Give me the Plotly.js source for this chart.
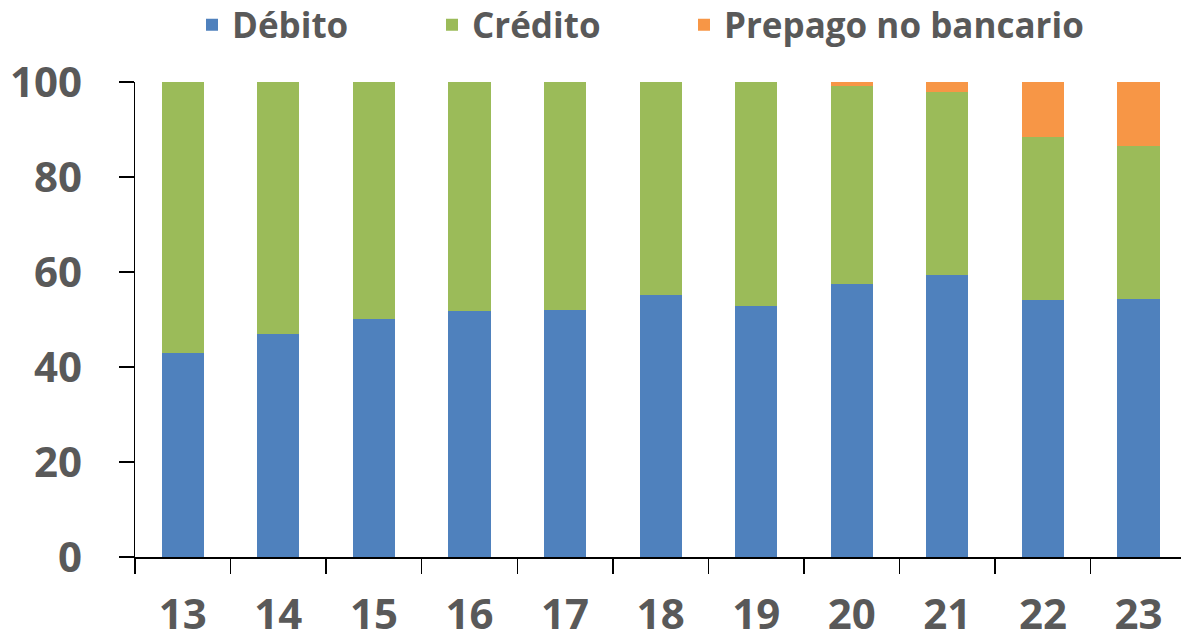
<!DOCTYPE html>
<html>
<head>
<meta charset="utf-8">
<script src="https://cdn.plot.ly/plotly-3.0.1.min.js"></script>
<style>html,body{margin:0;padding:0;background:#fff;}#chart{width:1181px;height:636px;}</style>
</head>
<body>
<div id="chart"></div>
<script>
const years = [13, 14, 15, 16, 17, 18, 19, 20, 21, 22, 23];
const yearLabels = ['13', '14', '15', '16', '17', '18', '19', '20', '21', '22', '23'];
const debito = [43.0, 47.0, 50.1, 51.7, 52.0, 55.2, 52.9, 57.5, 59.3, 54.2, 54.4];
const credito = [57.0, 53.0, 49.9, 48.3, 48.0, 44.8, 47.1, 41.7, 38.7, 34.2, 32.2];
const prepago = [null, null, null, null, null, null, null, 0.8, 2.0, 11.6, 13.4];
const boundaries = [12.5, 13.5, 14.5, 15.5, 16.5, 17.5, 18.5, 19.5, 20.5, 21.5, 22.5, 23.5];
const yTicks = [0, 20, 40, 60, 80, 100];

const txt = '#595959';
const fontFam = '"Open Sans", "Noto Sans", sans-serif';

const traces = [
  {type: 'bar', name: 'Débito', x: years, y: debito, legend: 'legend', marker: {color: '#4F81BD', line: {width: 0}}},
  {type: 'bar', name: 'Crédito', x: years, y: credito, legend: 'legend2', marker: {color: '#9BBB59', line: {width: 0}}},
  {type: 'bar', name: 'Prepago no bancario', x: years, y: prepago, legend: 'legend3', marker: {color: '#F79646', line: {width: 0}}}
];

function leg(px) {
  return {
    orientation: 'h', x: px / 1181, xref: 'container', xanchor: 'left',
    y: 1 - 25 / 636, yref: 'container', yanchor: 'middle',
    font: {size: 35, color: txt, family: fontFam, weight: 700},
    itemclick: false, bgcolor: 'rgba(0,0,0,0)', borderwidth: 0
  };
}

const layout = {
  width: 1181, height: 636,
  paper_bgcolor: '#fff', plot_bgcolor: '#fff',
  barmode: 'stack', bargap: 0.56,
  margin: {l: 135, r: 0, t: 81.5, b: 78.5, pad: 0},
  font: {family: fontFam, color: txt, weight: 700},
  showlegend: true,
  legend: leg(235 - 43),
  legend2: leg(475 - 43),
  legend3: leg(727 - 43),
  xaxis: {
    range: [12.5, 23.445], showgrid: false, zeroline: false,
    showline: true, linecolor: '#000', linewidth: 1.5,
    tickmode: 'array', tickvals: years, ticktext: yearLabels, ticks: '',
    tickfont: {size: 42, color: txt, family: fontFam, weight: 700},
    ticklabelstandoff: 20,
    minor: {tickmode: 'array', tickvals: boundaries, ticks: 'outside', ticklen: 15, tickwidth: 1.5, tickcolor: '#000', showgrid: false}
  },
  yaxis: {
    range: [0, 100], showgrid: false, zeroline: false,
    showline: true, linecolor: '#000', linewidth: 1.5,
    tickmode: 'array', tickvals: yTicks, ticks: 'outside', ticklen: 15, tickwidth: 1.5, tickcolor: '#000',
    tickfont: {size: 42, color: txt, family: fontFam, weight: 700},
    ticklabelstandoff: 28
  }
};

Plotly.newPlot('chart', traces, layout, {displayModeBar: false, staticPlot: true});
</script>
</body>
</html>
